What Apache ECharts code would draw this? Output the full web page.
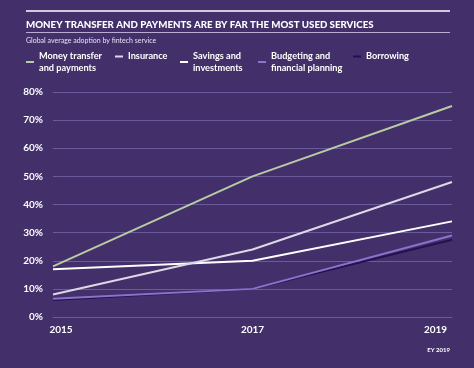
<!DOCTYPE html>
<html><head><meta charset="utf-8">
<script src="https://cdn.jsdelivr.net/npm/echarts@6/dist/echarts.min.js"></script>
<style>html,body{margin:0;padding:0;background:#43306b;}#c{width:474px;height:368px;}</style>
</head><body><div id="c"></div>
<script>
const years = ['2015', '2017', '2019'];
const yTicks = [0, 10, 20, 30, 40, 50, 60, 70, 80];
const seriesNames = ['Money transfer\nand payments', 'Insurance', 'Savings and\ninvestments', 'Budgeting and\nfinancial planning', 'Borrowing'];
const moneyTransfer = [18, 50, 75];
const insurance = [8, 24, 48];
const savings = [17, 20, 34];
const budgeting = [6.5, 10, 29];
const borrowing = [6, 10, 27.5];
const colors = ['#b9cba4', '#ddd8e6', '#ffffff', '#8c72cc', '#20134f'];
const values = [moneyTransfer, insurance, savings, budgeting, borrowing];

const FONT = 'Lato';
const legendLefts = [26, 115, 180, 258, 353];
const legends = seriesNames.map((n, i) => {
  const two = n.indexOf('\n') >= 0;
  return {
    data: [n], left: legendLefts[i], top: two ? 44 : 50.5,
    icon: 'rect', itemWidth: 8, itemHeight: 2, itemGap: 4, padding: 0,
    textStyle: {color: '#ffffff', fontFamily: FONT, fontWeight: 'bold', fontSize: 9.2, lineHeight: 12, padding: two ? [12, 0, 0, 0] : 0},
    selectedMode: false
  };
});

const chart = echarts.init(document.getElementById('c'), null, {renderer: 'canvas'});
chart.setOption({
  backgroundColor: '#43306b',
  animation: false,
  title: [{
    text: 'MONEY TRANSFER AND PAYMENTS ARE BY FAR THE MOST USED SERVICES',
    left: 26, top: 20, padding: 0,
    textStyle: {color: '#ffffff', fontFamily: FONT, fontWeight: 900, fontSize: 9.7}
  }, {
    text: 'Global average adoption by fintech service',
    left: 26, top: 37.5, padding: 0,
    textStyle: {color: '#e6e0f0', fontFamily: FONT, fontWeight: 'normal', fontSize: 7}
  }],
  graphic: [
    {type: 'line', shape: {x1: 26, y1: 11, x2: 450, y2: 11}, style: {stroke: '#ffffff', lineWidth: 1.5}},
    {type: 'line', shape: {x1: 26, y1: 32.5, x2: 450, y2: 32.5}, style: {stroke: '#b9aed2', lineWidth: 1}},
    {type: 'text', right: 24, top: 347, style: {text: 'EY 2019', fill: '#ffffff', font: 'bold 6px ' + FONT}}
  ],
  legend: legends,
  grid: {left: 53, right: 22, top: 92, bottom: 51},
  xAxis: {
    type: 'category', data: years, boundaryGap: false,
    axisLine: {show: true, lineStyle: {color: '#6c5b9c', width: 1}},
    axisTick: {show: false},
    axisLabel: {
      margin: 8, color: '#ffffff',
      formatter: (v, i) => i === 0 ? '{a|' + v + '}' : (i === years.length - 1 ? '{c|' + v + '}' : '{b|' + v + '}'),
      rich: {
        a: {color: '#ffffff', fontFamily: FONT, fontWeight: 'bold', fontSize: 10, padding: [0, 0, 0, 16]},
        b: {color: '#ffffff', fontFamily: FONT, fontWeight: 'bold', fontSize: 10},
        c: {color: '#ffffff', fontFamily: FONT, fontWeight: 'bold', fontSize: 10, padding: [0, 33, 0, 0]}
      }
    },
    splitLine: {show: false}
  },
  yAxis: {
    type: 'value', min: yTicks[0], max: yTicks[yTicks.length - 1], interval: 10,
    axisLine: {show: false}, axisTick: {show: false},
    axisLabel: {margin: 10, color: '#ffffff', fontFamily: FONT, fontWeight: 'bold', fontSize: 10, formatter: '{value}%'},
    splitLine: {lineStyle: {color: '#6c5b9c', width: 1}}
  },
  series: seriesNames.map((n, i) => ({
    name: n, type: 'line', data: values[i], symbol: 'none',
    lineStyle: {color: colors[i], width: 2}, itemStyle: {color: colors[i]},
    z: 10 - i
  }))
});
</script></body></html>
